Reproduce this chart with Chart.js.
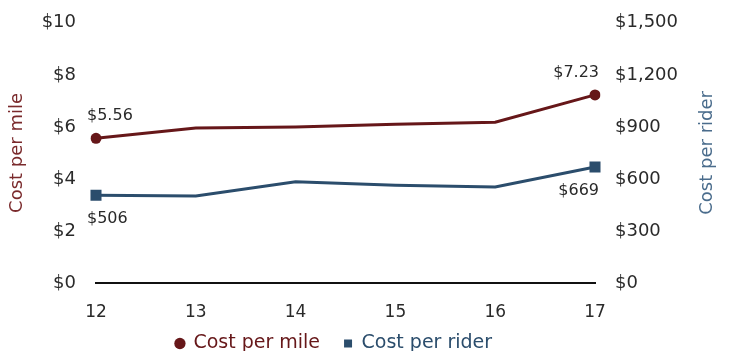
<!DOCTYPE html>
<html>
<head>
<meta charset="utf-8">
<script src="https://cdn.jsdelivr.net/npm/chart.js@4/dist/chart.umd.min.js"></script>
<style>
  html, body { margin: 0; padding: 0; background: #fff; overflow: hidden; }
  #wrap { width: 734px; height: 351px; overflow: hidden; }
</style>
</head>
<body>
<div id="wrap"><canvas id="costChart" width="734" height="380"></canvas></div>
<script>
const years = ['12', '13', '14', '15', '16', '17'];
const costPerMile = [5.56, 5.96, 6.00, 6.10, 6.18, 7.23];
const costPerRider = [506, 502, 583, 563, 553, 669];
const mileTicks = [0, 2, 4, 6, 8, 10];
const riderTicks = [0, 300, 600, 900, 1200, 1500];

const maroon = '#661719';
const navy = '#2b4d6c';
const textColor = '#2a2a2a';
const font = 'DejaVu Sans';

// labels on the first and last point of each line
const endLabels = {
    id: 'endLabels',
    afterDatasetsDraw(chart) {
        const ctx = chart.ctx;
        ctx.save();
        ctx.font = '16px "' + font + '"';
        ctx.fillStyle = textColor;
        ctx.textBaseline = 'middle';
        chart.data.datasets.forEach((ds, i) => {
            const meta = chart.getDatasetMeta(i);
            const above = i === 0;
            [0, ds.data.length - 1].forEach(idx => {
                const pt = meta.data[idx];
                const first = idx === 0;
                const text = i === 0 ? '$' + ds.data[idx].toFixed(2) : '$' + ds.data[idx];
                ctx.textAlign = first ? 'left' : 'right';
                const x = first ? pt.x - 9 : pt.x + 4;
                const y = above ? pt.y - 22 : pt.y + 24;
                ctx.fillText(text, x, y);
            });
        });
        ctx.restore();
    }
};

// right axis title reads bottom-to-top like the left one
const rightTitle = {
    id: 'rightTitle',
    afterDraw(chart) {
        const ctx = chart.ctx;
        const area = chart.chartArea;
        ctx.save();
        ctx.translate(707, (area.top + area.bottom) / 2);
        ctx.rotate(-Math.PI / 2);
        ctx.font = '18px "' + font + '"';
        ctx.fillStyle = '#4a6c8c';
        ctx.textAlign = 'center';
        ctx.textBaseline = 'middle';
        ctx.fillText('Cost per rider', 0, 0);
        ctx.restore();
    }
};

// nudge legend so it sits where the original one does
const legendShift = {
    id: 'legendShift',
    afterLayout(chart) {
        const lg = chart.legend;
        lg.left -= 33;
        lg.right -= 33;
        lg.top -= 17;
        lg.bottom -= 17;
    }
};

new Chart(document.getElementById('costChart'), {
    type: 'line',
    data: {
        labels: years,
        datasets: [{
            label: 'Cost per mile',
            data: costPerMile,
            yAxisID: 'y',
            borderColor: maroon,
            backgroundColor: maroon,
            borderWidth: 3,
            pointStyle: 'circle',
            pointBorderWidth: 0,
            pointRadius: [5.5, 0, 0, 0, 0, 5.5],
            pointHoverRadius: 5.5,
            tension: 0
        }, {
            label: 'Cost per rider',
            data: costPerRider,
            yAxisID: 'y1',
            borderColor: navy,
            backgroundColor: navy,
            borderWidth: 3,
            pointStyle: 'rect',
            pointBorderWidth: 0,
            pointRadius: [7.8, 0, 0, 0, 0, 7.8],
            pointHoverRadius: 7.8,
            tension: 0
        }]
    },
    plugins: [endLabels, rightTitle, legendShift],
    options: {
        responsive: false,
        animation: false,
        layout: { padding: { top: 12, bottom: 0, left: 0, right: 0 } },
        plugins: {
            tooltip: { enabled: false },
            legend: {
                position: 'bottom',
                labels: {
                    usePointStyle: true,
                    boxWidth: 8,
                    boxHeight: 8,
                    padding: 24,
                    font: { family: font, size: 19 },
                    generateLabels(chart) {
                        const items = Chart.defaults.plugins.legend.labels.generateLabels(chart);
                        items.forEach((it, i) => {
                            it.fontColor = i === 0 ? maroon : navy;
                            it.lineWidth = 0;
                        });
                        return items;
                    }
                }
            }
        },
        scales: {
            x: {
                grid: { display: false },
                border: { display: true, color: '#111', width: 2 },
                ticks: { color: textColor, padding: 11, font: { family: font, size: 17 } },
                afterFit(scale) { scale.height = 44; }
            },
            y: {
                position: 'left',
                min: 0,
                max: 10,
                afterBuildTicks(scale) { scale.ticks = mileTicks.map(v => ({ value: v })); },
                grid: { display: false },
                border: { display: false },
                ticks: {
                    color: textColor,
                    padding: 12,
                    font: { family: font, size: 18 },
                    callback: v => '$' + v
                },
                title: {
                    display: true,
                    text: 'Cost per mile',
                    color: '#7a2a2c',
                    padding: { top: 7, bottom: 4 },
                    font: { family: font, size: 18 }
                },
                afterFit(scale) { scale.width = 96; }
            },
            y1: {
                position: 'right',
                min: 0,
                max: 1500,
                afterBuildTicks(scale) { scale.ticks = riderTicks.map(v => ({ value: v })); },
                grid: { display: false },
                border: { display: false },
                ticks: {
                    color: textColor,
                    padding: 12,
                    font: { family: font, size: 18 },
                    callback: v => '$' + v.toLocaleString('en-US')
                },
                afterFit(scale) { scale.width = 139; }
            }
        }
    }
});
</script>
</body>
</html>
